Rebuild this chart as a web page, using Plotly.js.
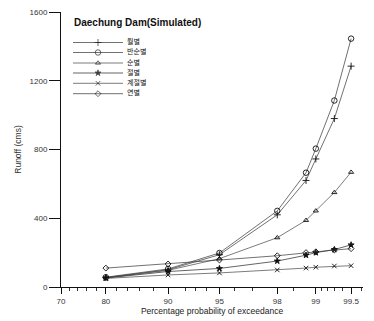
<!DOCTYPE html>
<html>
<head>
<meta charset="utf-8">
<script src="https://cdn.plot.ly/plotly-3.0.1.min.js"></script>
<style>html,body{margin:0;padding:0;background:#fff;}#chart{width:374px;height:321px;}</style>
</head>
<body>
<div id="chart"></div>
<script>
// ---- data (percent probability of exceedance vs runoff, cms) ----
const probs = [80, 90, 95, 98, 98.8, 99, 99.3, 99.5];
const seriesNames = ['월별', '반순별', '순별', '절별', '계절별', '연별'];
const monthly   = [55, 100, 188, 420, 620, 745, 980, 1285];
const halfDekad = [57, 105, 198, 443, 665, 805, 1085, 1445];
const dekad     = [54, 97, 165, 287, 388, 443, 550, 668];
const seasonal1 = [52, 90, 108, 151, 185, 200, 218, 245];
const seasonal2 = [50, 70, 82, 99, 110, 115, 122, 124];
const annual    = [110, 134, 157, 182, 200, 205, 215, 223];
const tickProbs = [70, 80, 90, 95, 98, 99, 99.5];
const tickLabels = ['70', '80', '90', '95', '98', '99', '99.5'];
const minorProbs = [72, 74, 76, 78, 82, 84, 86, 88, 92, 93, 94, 96, 97, 98.5, 99.1, 99.2, 99.3, 99.4, 99.6];
const yTicks = [0, 400, 800, 1200, 1600];

// inverse standard normal CDF (probability paper scale)
function normInv(p) {
  const a = [-3.969683028665376e+01, 2.209460984245205e+02, -2.759285104469687e+02, 1.383577518672690e+02, -3.066479806614716e+01, 2.506628277459239e+00];
  const b = [-5.447609879822406e+01, 1.615858368580409e+02, -1.556989798598866e+02, 6.680131188771972e+01, -1.328068155288572e+01];
  const c = [-7.784894002430293e-03, -3.223964580411365e-01, -2.400758277161838e+00, -2.549732539343734e+00, 4.374664141464968e+00, 2.938163982698783e+00];
  const d = [7.784695709041462e-03, 3.224671290700398e-01, 2.445134137142996e+00, 3.754408661907416e+00];
  const pl = 0.02425, ph = 1 - pl;
  let q, r;
  if (p < pl) { q = Math.sqrt(-2 * Math.log(p)); return (((((c[0]*q+c[1])*q+c[2])*q+c[3])*q+c[4])*q+c[5]) / ((((d[0]*q+d[1])*q+d[2])*q+d[3])*q+1); }
  if (p <= ph) { q = p - 0.5; r = q*q; return (((((a[0]*r+a[1])*r+a[2])*r+a[3])*r+a[4])*r+a[5])*q / (((((b[0]*r+b[1])*r+b[2])*r+b[3])*r+b[4])*r+1); }
  q = Math.sqrt(-2 * Math.log(1 - p)); return -(((((c[0]*q+c[1])*q+c[2])*q+c[3])*q+c[4])*q+c[5]) / ((((d[0]*q+d[1])*q+d[2])*q+d[3])*q+1);
}
const z = v => normInv(v / 100);

const allSeries = [monthly, halfDekad, dekad, seasonal1, seasonal2, annual];
const styles = [
  {symbol: 'cross-thin-open', size: 5, color: '#333'},
  {symbol: 'circle-open', size: 5.5, color: '#333'},
  {symbol: 'triangle-up-open', size: 4.5, color: '#444'},
  {symbol: 'star', size: 4.5, color: '#222'},
  {symbol: 'x-thin-open', size: 4.5, color: '#444'},
  {symbol: 'diamond-open', size: 4.5, color: '#333'}
];

const xs = probs.map(z);
const traces = allSeries.map((vals, i) => ({
  type: 'scatter', mode: 'lines+markers', x: xs, y: vals, name: seriesNames[i],
  line: {color: styles[i].color, width: 0.7},
  marker: {symbol: styles[i].symbol, size: styles[i].size, color: '#111', line: {color: '#111', width: 0.9}},
  showlegend: false, hoverinfo: 'skip'
}));

// compact legend drawn on an overlay axis measured in pixels of the plot area
const legRowY = [42.5, 52.5, 63, 73, 83.3, 93.7];
seriesNames.forEach((nm, i) => {
  traces.push({
    type: 'scatter', mode: 'lines+markers', x: [73, 98, 123], y: [legRowY[i], legRowY[i], legRowY[i]],
    xaxis: 'x2', yaxis: 'y2', showlegend: false, hoverinfo: 'skip',
    line: {color: styles[i].color, width: 0.7},
    marker: {symbol: styles[i].symbol, size: [0, styles[i].size, 0], color: '#111', line: {color: '#111', width: 0.9}}
  });
});
traces.push({
  type: 'scatter', mode: 'text', x: seriesNames.map(() => 127), y: legRowY, text: seriesNames,
  textposition: 'middle right', xaxis: 'x2', yaxis: 'y2', showlegend: false, hoverinfo: 'skip',
  textfont: {family: 'Noto Sans CJK KR', size: 7, color: '#111'}
});

const L = 61, R = 363, T = 12, B = 287;
const annotations = [{
  xref: 'x2', yref: 'y2', x: 72, y: 22.5, xanchor: 'left', yanchor: 'middle', showarrow: false,
  text: '<b>Daechung Dam(Simulated)</b>', font: {family: 'Liberation Sans, Arial', size: 10, color: '#111'}
}];

const layout = {
  width: 374, height: 321,
  margin: {l: L, r: 374 - R, t: T, b: 321 - B, pad: 0},
  paper_bgcolor: '#fff', plot_bgcolor: '#fff',
  font: {family: 'Liberation Sans, Arial', size: 8, color: '#333'},
  showlegend: false,
  xaxis: {
    range: [z(70), 2.66], showgrid: false, zeroline: false,
    showline: true, linecolor: '#111', linewidth: 1,
    tickmode: 'array', tickvals: tickProbs.map(z), ticktext: tickLabels,
    ticks: 'outside', ticklen: 6, tickwidth: 1, tickcolor: '#111',
    tickfont: {size: 8, color: '#333'},
    minor: {tickmode: 'array', tickvals: minorProbs.map(z), ticks: 'outside', ticklen: 3, tickwidth: 1, tickcolor: '#333', showgrid: false},
    title: {text: 'Percentage probability of exceedance', font: {size: 8.5, color: '#222'}, standoff: 2}
  },
  yaxis: {
    range: [0, 1600], showgrid: false, zeroline: false,
    showline: true, linecolor: '#111', linewidth: 1,
    tickmode: 'array', tickvals: yTicks,
    ticks: 'outside', ticklen: 11, tickwidth: 1, tickcolor: '#111',
    tickfont: {size: 8, color: '#333'},
    title: {text: 'Runoff (cms)', font: {size: 8.5, color: '#333'}, standoff: 6}
  },
  xaxis2: {overlaying: 'x', range: [L, R], visible: false, fixedrange: true},
  yaxis2: {overlaying: 'y', range: [B, T], visible: false, fixedrange: true},
  annotations: annotations
};

Plotly.newPlot('chart', traces, layout, {staticPlot: true, displayModeBar: false});
</script>
</body>
</html>
